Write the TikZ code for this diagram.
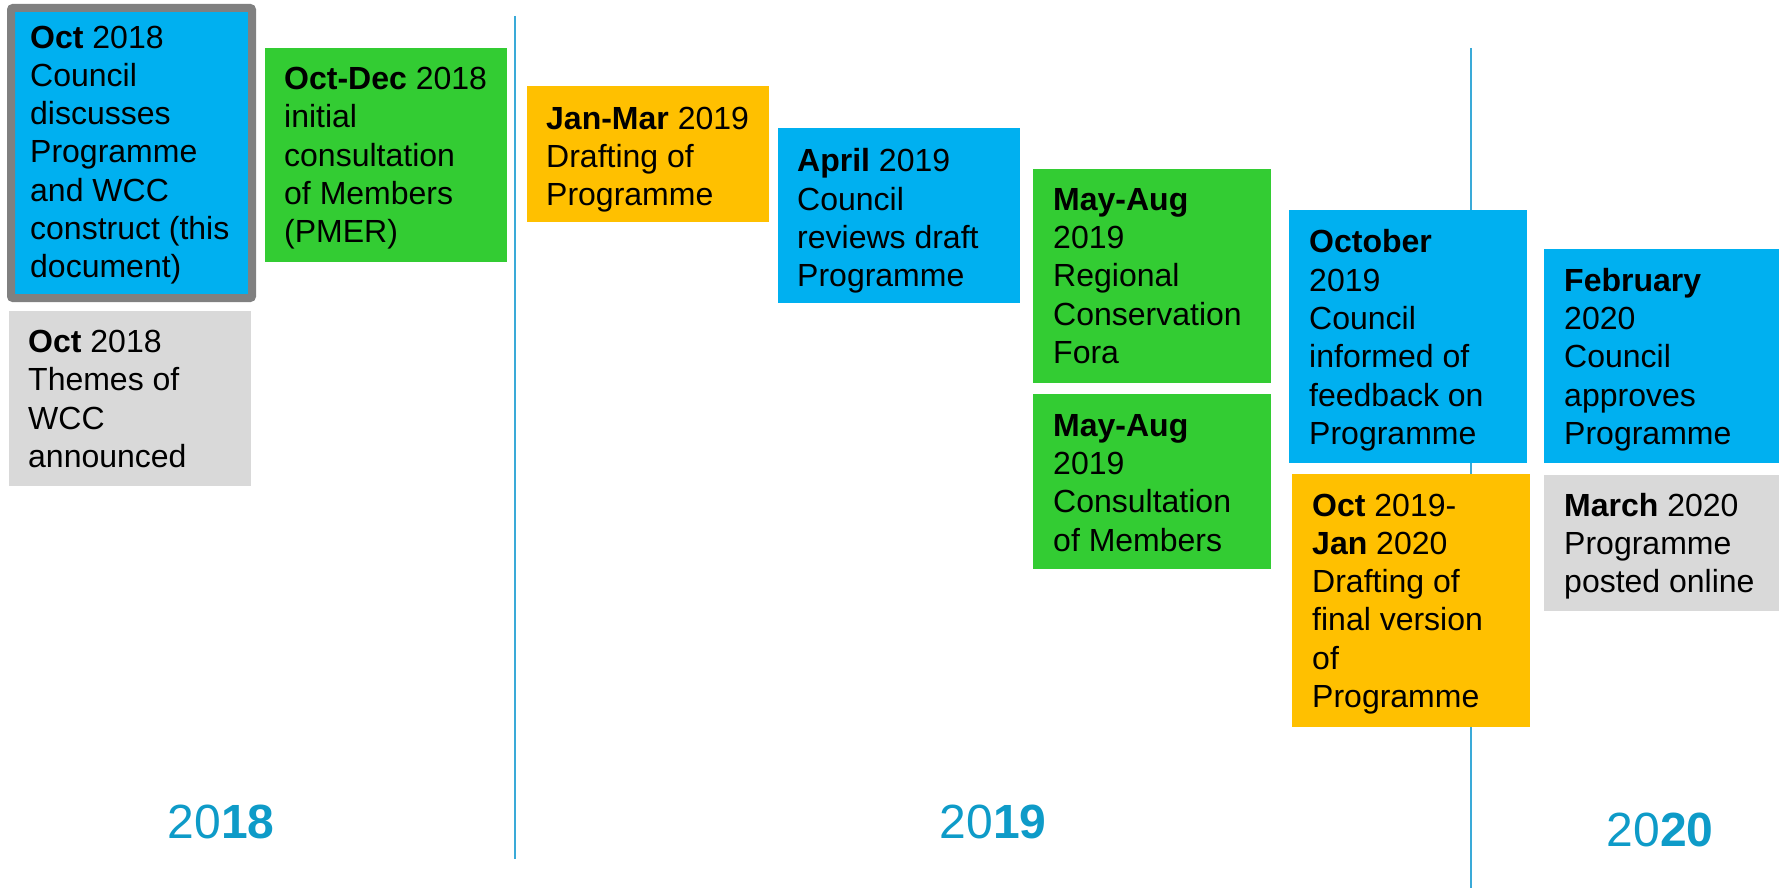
\documentclass[tikz,border=0pt]{standalone}
\usepackage{fontspec}
\setmainfont{Liberation Sans}
\usepackage{tikz}

\definecolor{cblue}{RGB}{0,176,240}
\definecolor{cgreen}{RGB}{51,204,51}
\definecolor{cyellow}{RGB}{255,192,0}
\definecolor{cgrey}{RGB}{217,217,217}
\definecolor{cframe}{RGB}{128,128,128}
\definecolor{yearblue}{RGB}{14,155,200}
\definecolor{linecol}{RGB}{58,170,216}

\tikzset{
txt/.style={anchor=north west, inner sep=0pt, align=left, font=\fontsize{32}{38.3}\selectfont},
yr/.style={inner sep=0pt, text=yearblue, font=\fontsize{48}{48}\selectfont},
divider/.style={draw=linecol, line width=2pt}
}

\begin{document}
\begin{tikzpicture}[x=1pt, y=-1pt]
\useasboundingbox (0,0) rectangle (1785,888);
% year dividers
\draw[divider] (514.5,16) -- (514.5,859);
\draw[divider] (1470.5,48) -- (1470.5,888);
% 2018
\draw[fill=cblue, draw=cframe, line width=8pt, rounded corners=2pt] (11,8) rectangle (252,298);
\node[txt] (council18) at (30,25.5) {\textbf{Oct} 2018\\Council\\discusses\\Programme\\and WCC\\construct (this\\document)};
\fill[cgrey] (9,311) rectangle (251,486);
\node[txt] (themes) at (28,330) {\textbf{Oct} 2018\\Themes of\\WCC\\announced};
\fill[cgreen] (265,48) rectangle (507,262);
\node[txt] (pmer) at (284,67) {\textbf{Oct-Dec} 2018\\initial\\consultation\\of Members\\(PMER)};
% 2019
\fill[cyellow] (527,86) rectangle (769,222);
\node[txt] (draft19) at (546,106.5) {\textbf{Jan-Mar} 2019\\Drafting of\\Programme};
\fill[cblue] (778,128) rectangle (1020,303);
\node[txt] (review19) at (797,148.5) {\textbf{April} 2019\\Council\\reviews draft\\Programme};
\fill[cgreen] (1033,169) rectangle (1271,383);
\node[txt] (fora) at (1053,188) {\textbf{May-Aug}\\2019\\Regional\\Conservation\\Fora};
\fill[cgreen] (1033,394) rectangle (1271,569);
\node[txt] (consult19) at (1053,414) {\textbf{May-Aug}\\2019\\Consultation\\of Members};
\fill[cblue] (1289,210) rectangle (1527,463);
\node[txt] (feedback) at (1309,229.5) {\textbf{October}\\2019\\Council\\informed of\\feedback on\\Programme};
\fill[cyellow] (1292,474) rectangle (1530,727);
\node[txt] (final) at (1312,493.5) {\textbf{Oct} 2019-\\\textbf{Jan} 2020\\Drafting of\\final version\\of\\Programme};
% 2020
\fill[cblue] (1544,249) rectangle (1779,463);
\node[txt] (approve) at (1564,268) {\textbf{February}\\2020\\Council\\approves\\Programme};
\fill[cgrey] (1544,475) rectangle (1779,611);
\node[txt] (online) at (1564,493) {\textbf{March} 2020\\Programme\\posted online};
% years
\node[yr] (y18) at (221,821.5) {20\textbf{18}};
\node[yr] (y19) at (993,821.5) {20\textbf{19}};
\node[yr] (y20) at (1660,829.5) {20\textbf{20}};
\end{tikzpicture}
\end{document}
